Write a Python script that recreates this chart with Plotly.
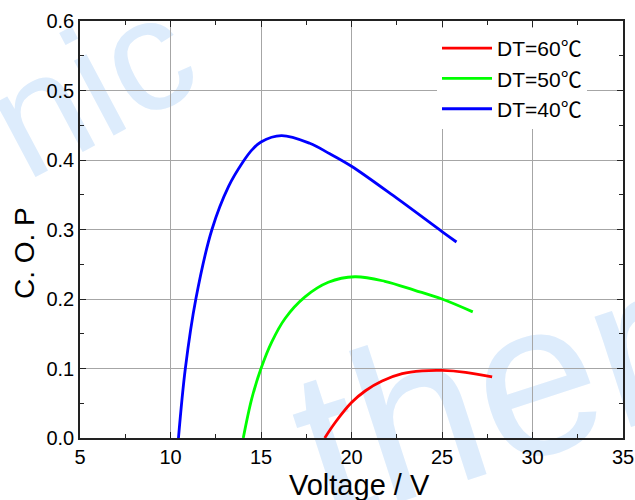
import math
import plotly.graph_objects as go

# ---- data ----
v_dt60 = [18.52, 19.12, 20.0, 20.77, 21.69, 22.8, 23.9, 25.0, 26.3, 27.77]
cop_dt60 = [0.0, 0.023, 0.051, 0.068, 0.082, 0.0925, 0.0965, 0.0972, 0.0945, 0.088]

v_dt50 = [14.02, 14.49, 15.0, 15.59, 16.33, 17.43, 18.72, 20.18, 21.84, 23.5, 25.0, 26.7]
cop_dt50 = [0.0, 0.0567, 0.10, 0.138, 0.172, 0.203, 0.224, 0.232, 0.2255, 0.2125, 0.200, 0.1815]

v_dt40 = [10.44, 10.82, 11.4, 12.29, 13.21, 14.0, 14.5, 15.0, 16.13, 17.69, 18.8, 20.0, 22.5, 25.0, 25.8]
cop_dt40 = [0.0, 0.10, 0.20, 0.30, 0.362, 0.397, 0.4145, 0.426, 0.435, 0.424, 0.409, 0.391, 0.345, 0.297, 0.282]

series_names = ["DT=60℃", "DT=50℃", "DT=40℃"]
series_colors = ["#ff0000", "#00ff00", "#0000ff"]

x_ticks = [5, 10, 15, 20, 25, 30, 35]
y_ticks = [0.0, 0.1, 0.2, 0.3, 0.4, 0.5, 0.6]
x_title = "Voltage / V"
y_title = "C. O. P"

FONT = "Liberation Sans, Arial, sans-serif"
CJK = "Noto Sans CJK SC"

def legend_label(name):
    # wide degree-Celsius glyph as in the reference
    return name.replace("℃", '<span style="font-family:%s">℃</span>' % CJK)

fig = go.Figure()
for xs, ys, name, col in zip([v_dt60, v_dt50, v_dt40], [cop_dt60, cop_dt50, cop_dt40],
                             series_names, series_colors):
    fig.add_trace(go.Scatter(x=xs, y=ys, mode="lines", name=legend_label(name),
                             line=dict(color=col, width=2.8, shape="spline", smoothing=1.0)))

# plot area in pixels: left 80, right 623, top 21, bottom 438
L, R, T, B = 80, 623, 21, 438
def px(xp):
    return (xp - L) / (R - L)
def py(yp):
    return (B - yp) / (B - T)

wm_color = "#ddecfc"
shapes = []
for text, cx, cy, ang, size in [("nic", 83, 72, 28, 160), ("therm", 563, 347, 18, 220)]:
    a = math.radians(ang)
    dx, dy = 100 * math.cos(a), 100 * math.sin(a)
    shapes.append(dict(type="line", xref="paper", yref="paper", layer="below",
                       x0=px(cx - dx), y0=py(cy + dy), x1=px(cx + dx), y1=py(cy - dy),
                       line=dict(color="rgba(0,0,0,0)", width=0),
                       label=dict(text=text, textposition="middle", yanchor="middle",
                                  font=dict(family=FONT, size=size, color=wm_color))))

annotations = [
    dict(text=x_title, xref="paper", yref="paper", x=px(359), y=py(485),
         xanchor="center", yanchor="middle", showarrow=False,
         font=dict(family=FONT, size=29, color="black")),
    dict(text=y_title, xref="paper", yref="paper", x=px(24), y=py(253),
         xanchor="center", yanchor="middle", showarrow=False, textangle=-90,
         font=dict(family=FONT, size=28, color="black")),
]

axis_common = dict(
    showgrid=True, gridcolor="#a6a6a6", gridwidth=1,
    showline=True, linecolor="#222", linewidth=1.5, mirror="ticks",
    ticks="inside", ticklen=6, tickcolor="#222", tickwidth=1.2,
    tickfont=dict(size=20, family=FONT, color="black"), zeroline=False, automargin=False,
)

fig.update_layout(
    width=635, height=500,
    margin=dict(l=L, r=635 - R, t=T, b=500 - B),
    paper_bgcolor="white", plot_bgcolor="white",
    font=dict(family=FONT, color="black"),
    shapes=shapes,
    annotations=annotations,
    showlegend=True,
    legend=dict(x=px(437), y=py(28), xanchor="left", yanchor="top",
                bgcolor="white", borderwidth=0,
                font=dict(family=FONT, size=21, color="black"),
                itemwidth=50, tracegroupgap=0),
    xaxis=dict(range=[5, 35], tickvals=x_ticks, ticktext=[str(v) for v in x_ticks],
               minor=dict(ticks="inside", ticklen=4, dtick=2.5, tick0=5, tickcolor="#222", showgrid=False),
               **axis_common),
    yaxis=dict(range=[0, 0.6], tickvals=y_ticks, ticktext=["%.1f" % v for v in y_ticks],
               minor=dict(ticks="inside", ticklen=4, dtick=0.05, tick0=0, tickcolor="#222", showgrid=False),
               **axis_common),
)

fig.write_html("out.html", config={"displayModeBar": False},
               post_script="document.body.style.margin='0px';")
